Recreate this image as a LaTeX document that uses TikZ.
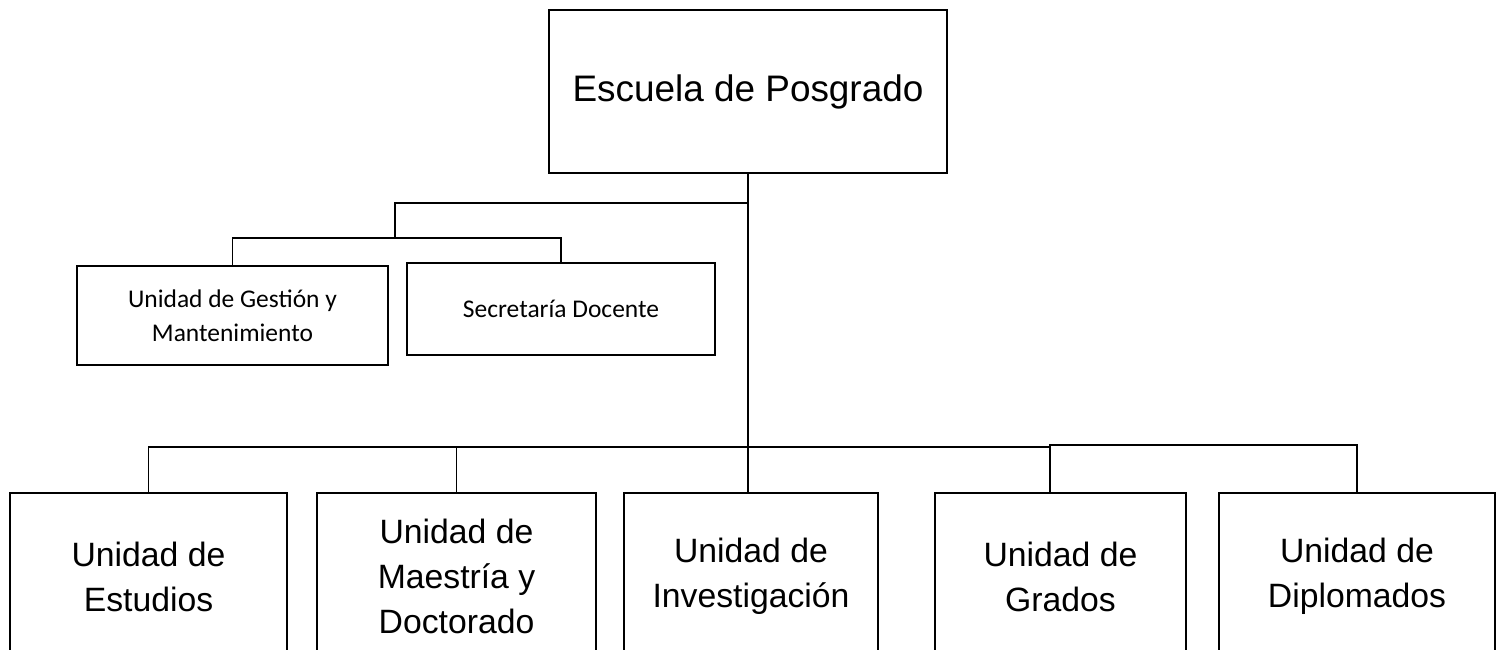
\documentclass[tikz,border=0pt]{standalone}
\usepackage{fontspec}
\setmainfont{Liberation Sans}
\newfontfamily\calibri{Carlito}
\usepackage{tikz}
\usetikzlibrary{calc}
\tikzset{caja/.style={draw,line width=1.1pt,rectangle,align=center,inner sep=0pt}}
\tikzset{g/.style={font=\fontsize{21}{25}\selectfont}}
\tikzset{l/.style={font=\fontsize{19.2}{25.6}\selectfont}}
\tikzset{m/.style={font=\calibri\fontsize{14.5}{19.4}\selectfont}}

\begin{document}
\begin{tikzpicture}[line width=1.1pt]
            \useasboundingbox (0,0) rectangle (30.12,13);
            \clip (0,0) rectangle (30.12,13);
            \node[caja,g,minimum width=7.96cm,minimum height=3.26cm] (EP) at (14.96,11.17) {Escuela de Posgrado};
            \node[caja,m,minimum width=6.22cm,minimum height=1.98cm] (UGM) at (4.65,6.69) {Unidad de Gestión y\\Mantenimiento};
            \node[caja,m,minimum width=6.16cm,minimum height=1.84cm] (SD) at (11.22,6.82) {Secretaría Docente};
            \node[caja,l,minimum width=5.54cm,minimum height=3.34cm] (UE) at (2.97,1.47) {Unidad de\\Estudios};
            \node[caja,l,minimum width=5.58cm,minimum height=3.34cm] (UMD) at (9.13,1.47) {Unidad de\\Maestría y\\Doctorado};
            \node[caja,l,minimum width=5.08cm,minimum height=3.34cm] (UI) at (15.02,1.47) {Unidad de\\Investigación};
            \node[caja,l,minimum width=5.02cm,minimum height=3.34cm] (UG) at (21.21,1.47) {Unidad de\\Grados};
            \node[caja,l,minimum width=5.52cm,minimum height=3.34cm] (UD) at (27.14,1.47) {Unidad de\\Diplomados};
            \coordinate (j1) at (EP.south |- 0,8.94);
            \coordinate (sb) at (7.90,8.24);
            \coordinate (bb) at (EP.south |- 0,4.06);
            \coordinate (gg) at (21.0,3.14);
            \draw (EP.south) -- (EP.south |- UI.north);
            \draw (j1) -| (sb);
            \draw (UGM.north) |- (sb) -| (SD.north);
            \draw (UE.north) |- (bb) -| (gg);
            \draw (gg |- bb) -- ++(0,0.04) -| (UD.north);
            \draw (UMD.north) -- (UMD.north |- bb);
          \end{tikzpicture}
\end{document}
